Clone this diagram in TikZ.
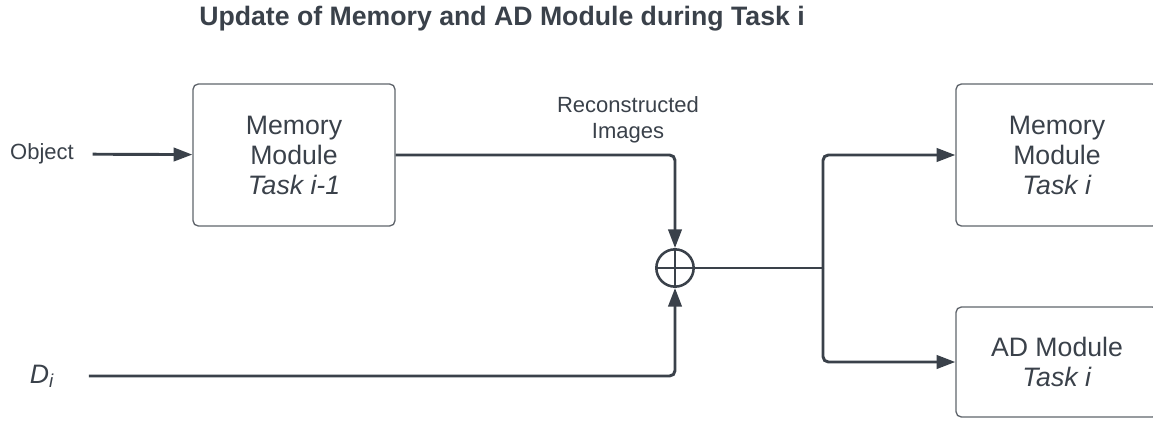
\documentclass[tikz,border=0pt]{standalone}
\usepackage{fontspec}
\setmainfont{Liberation Sans}
\usetikzlibrary{positioning, arrows.meta}
\definecolor{lc_ink}{RGB}{58,65,74}
\definecolor{lc_edge}{RGB}{96,101,108}
\tikzset{
  module/.style={draw=lc_edge, line width=1pt, rounded corners=4pt, minimum width=151.5pt, minimum height=106.5pt, align=center, text=lc_ink, font=\fontsize{20}{22.5}\selectfont},
  lbl/.style={text=lc_ink, inner sep=0pt, align=center, font=\fontsize{16.5}{19.5}\selectfont},
  conn/.style={draw=lc_ink, line width=2.2pt, rounded corners=4pt},
  arr/.style={-{Triangle[length=14pt,width=10pt]}},
}
\begin{document}
\begin{tikzpicture}[x=0.75pt,y=-0.75pt]
  \useasboundingbox (0,0) rectangle (1153,428);
  %タイトル
  \node[text=lc_ink, font=\bfseries\fontsize{20}{23}\selectfont] (title) at (502,19) {Update of Memory and AD Module during Task i};
  %ブロック
  \node[module] (mem1) at (294,155) {Memory\\Module\\\textit{Task i-1}};
  \node[module] (mem2) at (1057,155) {Memory\\Module\\\textit{Task i}};
  \node[module, minimum height=82.5pt] (ad) at (1057,362) {AD Module\\\textit{Task i}};
  \node[draw=lc_ink, line width=1.9pt, circle, minimum size=28pt, inner sep=0pt] (oplus) at (675,268) {};
  \draw[lc_ink, line width=1.9pt] (oplus.north)--(oplus.south) (oplus.west)--(oplus.east);
  %入力
  \node[lbl] (obj) at (42,154) {Object};
  \node[lbl, font=\fontsize{20}{22}\selectfont] (data) at (42,376) {\textit{D\textsubscript{i}}};
  \node[lbl] (recon) at (628,120) {Reconstructed\\Images};
  \coordinate (split) at (823,268);
  %矢印
  \draw[conn, arr, shorten <=14pt] (obj) -- (mem1);
  \draw[conn, arr] (mem1.east) -| (oplus.north);
  \draw[conn, arr, shorten <=26pt] (data) -| (oplus.south);
  \draw[conn] (oplus.east) -- (split);
  \draw[conn, arr] (split) |- (mem2);
  \draw[conn, arr] (split) |- (ad);
\end{tikzpicture}
\end{document}
